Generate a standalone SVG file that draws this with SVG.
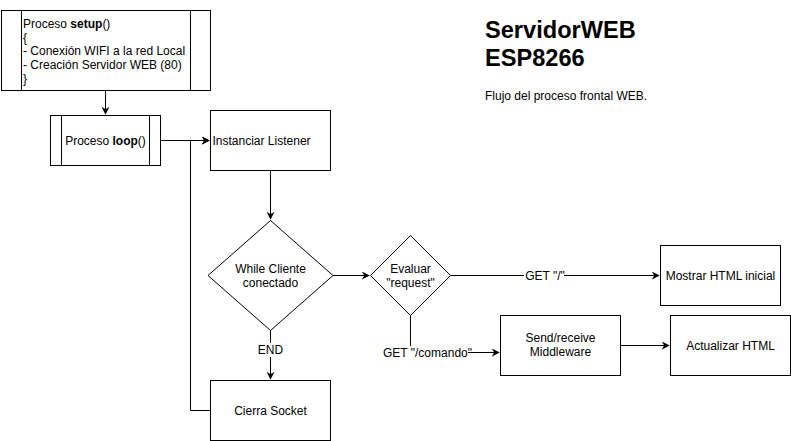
<svg xmlns="http://www.w3.org/2000/svg" width="791" height="441" viewBox="0 0 791 441">
<defs>
<marker id="arr" viewBox="0 0 10 10" refX="9" refY="5" markerWidth="8" markerHeight="8" markerUnits="userSpaceOnUse" orient="auto">
<path d="M0,0 L10,5 L0,10 L3,5 Z" fill="#000"/>
</marker>
<style>
.s{fill:#fff;stroke:#000;stroke-width:1}
.t{font-family:"Liberation Sans",Arial,sans-serif;font-size:12px;fill:#000}
.c{text-anchor:middle}
.e{fill:none;stroke:#000;stroke-width:1}
.lb{fill:#fff}
.h{font-family:"Liberation Sans",Arial,sans-serif;font-size:23.6px;font-weight:bold;fill:#000}
</style>
</defs>
<rect width="791" height="441" fill="#fff"/>
<g id="connectors">
<path class="e" d="M105.5,90 V114" marker-end="url(#arr)"/>
<path class="e" d="M160,140.5 H209" marker-end="url(#arr)"/>
<path class="e" d="M210,410.5 H190.5 V140.5 H209" marker-end="url(#arr)"/>
<path class="e" d="M270.5,170 V219" marker-end="url(#arr)"/>
<path class="e" d="M270.5,330 V379" marker-end="url(#arr)"/>
<path class="e" d="M333,275.5 H369" marker-end="url(#arr)"/>
<path class="e" d="M450,275.5 H659" marker-end="url(#arr)"/>
<path class="e" d="M410.5,315 V352.5 H499" marker-end="url(#arr)"/>
<path class="e" d="M620,345.5 H669" marker-end="url(#arr)"/>
<rect class="lb" x="254" y="343" width="32" height="14"/>
<text class="t c" x="270.5" y="354">END</text>
<rect class="lb" x="524" y="269" width="40" height="14"/>
<text class="t c" x="545" y="280">GET "/"</text>
<rect class="lb" x="386" y="346" width="82" height="14"/>
<text class="t c" x="427.5" y="357">GET "/comando"</text>
</g>
<g id="setup">
<rect class="s" x="1.5" y="10.5" width="209" height="80"/>
<path class="e" d="M21.5,10.5 V90.5 M190.5,10.5 V90.5"/>
<text class="t" x="23" y="28">Proceso <tspan font-weight="bold">setup</tspan>()</text>
<text class="t" x="23" y="42">{</text>
<text class="t" x="23" y="55">- Conexión WIFI a la red Local</text>
<text class="t" x="23" y="69">- Creación Servidor WEB (80)</text>
<text class="t" x="23" y="83">}</text>
</g>
<g id="loop">
<rect class="s" x="50.5" y="115.5" width="110" height="50"/>
<path class="e" d="M61.5,115.5 V165.5 M149.5,115.5 V165.5"/>
<text class="t c" x="105.5" y="144.5">Proceso <tspan font-weight="bold">loop</tspan>()</text>
</g>
<g id="listener">
<rect class="s" x="210.5" y="110.5" width="120" height="60"/>
<text class="t" x="212.5" y="144.5">Instanciar Listener</text>
</g>
<g id="while">
<path class="s" d="M270.5,220.5 L333,275.5 L270.5,330.5 L208,275.5 Z"/>
<text class="t c" x="270.5" y="273">While Cliente</text>
<text class="t c" x="270.5" y="287">conectado</text>
</g>
<g id="cierra">
<rect class="s" x="210.5" y="380.5" width="120" height="60"/>
<text class="t c" x="270.5" y="414.5">Cierra Socket</text>
</g>
<g id="evaluar">
<path class="s" d="M410.5,235.5 L450.5,275.5 L410.5,315.5 L370.5,275.5 Z"/>
<text class="t c" x="410.5" y="273">Evaluar</text>
<text class="t c" x="410.5" y="287">"request"</text>
</g>
<g id="mostrar">
<rect class="s" x="660.5" y="245.5" width="120" height="60"/>
<text class="t c" x="720.5" y="279.5">Mostrar HTML inicial</text>
</g>
<g id="send">
<rect class="s" x="500.5" y="315.5" width="120" height="60"/>
<text class="t c" x="560.5" y="342">Send/receive</text>
<text class="t c" x="560.5" y="356">Middleware</text>
</g>
<g id="actualizar">
<rect class="s" x="670.5" y="315.5" width="120" height="60"/>
<text class="t c" x="730.5" y="349.5">Actualizar HTML</text>
</g>
<g id="title">
<text class="h" x="485" y="38">ServidorWEB</text>
<text class="h" x="485" y="65.5">ESP8266</text>
<text class="t" x="485" y="99.5">Flujo del proceso frontal WEB.</text>
</g>
</svg>
